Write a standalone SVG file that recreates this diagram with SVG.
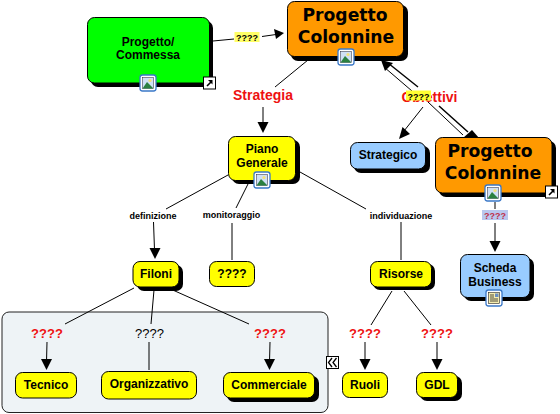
<svg xmlns="http://www.w3.org/2000/svg" width="560" height="414" viewBox="0 0 560 414">
<style>
text{font-family:"Liberation Sans",Arial,sans-serif;text-anchor:middle;font-weight:bold;fill:#000}
.n{stroke:#000;stroke-width:1}
.y{fill:#ffff00}.o{fill:#ff9900}.b{fill:#99ccff}.g{fill:#00ff00}
.s{fill:#000}
.t12{font-size:12px}
.big{font-family:"DejaVu Sans",Verdana,sans-serif;font-size:17.2px}
.red{font-size:14px;fill:#ee1111}
.lab{font-size:13px;fill:#ee1111}
.plain{font-size:13px;font-weight:normal}
.sm{font-size:9px}
.c{fill:none;stroke:#000;stroke-width:1}
.c2{fill:none;stroke:#000;stroke-width:1.5}
.h{fill:#000}
</style>
<defs>
<g id="pic">
<rect x="-8" y="-8" width="16" height="16" rx="2.5" fill="#fff" stroke="#3a78c8" stroke-width="1.3"/>
<rect x="-5.500" y="-5.500" width="11" height="11" fill="#cfe0f5" stroke="#223" stroke-width=".5"/>
<circle cx="2" cy="-2.500" r="1.600" fill="#f4e27a"/>
<path d="M-5.500 5.500L-1 -1L2 2L5.500 5.500Z" fill="#2a8040"/>
</g>
<g id="link">
<rect x="-6" y="-6" width="12" height="12" fill="#fff" stroke="#000" stroke-width="1"/>
<path d="M-2.500 3L2 -1.500" stroke="#000" stroke-width="1.600"/>
<path d="M-1.500 -3H3V1.500Z" fill="#000"/>
</g>
<g id="doc">
<rect x="-8" y="-8" width="16" height="16" rx="2.500" fill="#fff" stroke="#3a78c8" stroke-width="1.300"/>
<rect x="-5.500" y="-5.500" width="11" height="11" fill="#f5edb0" stroke="#222" stroke-width=".6"/>
<path d="M-4 -3H0M-4 -1H0M-4 1H4M-4 3H4" stroke="#222" stroke-width=".8"/>
<rect x="1" y="-4.500" width="3.500" height="3.500" fill="#6a8fc0"/>
</g>
</defs>
<rect width="560" height="414" fill="#fff"/>
<g id="panel"><rect x="2" y="312" width="326" height="100.500" rx="7" fill="#eef3f6" stroke="#222" stroke-width="1"/></g>

<g id="connectors">
<path class="c" d="M213 41L234 39M262 36.500L276 34.500"/>
<path class="h" d="M284 33L274 29L276 39Z"/>
<path class="c" d="M308 60L275 87"/>
<path class="c" d="M263 107V122"/>
<path class="h" d="M263 133L257.500 122H268.500Z"/>
<path class="c" d="M228 175L166 209"/>
<path class="c" d="M153.500 222L154.500 250"/>
<path class="h" d="M155 259L149.500 248H160.500Z"/>
<path class="c" d="M249 182L236 208"/>
<path class="c" d="M232 223V260"/>
<path class="c" d="M300 172L366 209"/>
<path class="c" d="M401 222V260"/>
<path class="c" d="M134 288L65 324M154 290L151 324M166 287L249 324"/>
<path class="c" d="M47 342L46.500 362"/>
<path class="h" d="M46.500 370L41 359H52Z"/>
<path class="c" d="M149 342V370"/>
<path class="c" d="M270 342L269.500 362"/>
<path class="h" d="M269.500 370L264 359H275Z"/>
<path class="c" d="M392 291L371 325M404 291L431 325"/>
<path class="c" d="M365 342V362"/>
<path class="h" d="M365 370L359.500 359H370.500Z"/>
<path class="c" d="M437 342V362"/>
<path class="h" d="M437 370L431.500 359H442.500Z"/>
<path class="c" d="M495 202V209M495 223V243"/>
<path class="h" d="M495 252L489.500 241H500.500Z"/>
<path class="c" d="M423 107L404 131"/>
<path class="h" d="M399 139L402.500 127L410 134Z"/>
<path class="c2" d="M388 63L418 87"/>
<path class="c" d="M384 67L412 91"/>
<path class="c" d="M428 102L463 135"/>
<path class="c2" d="M439 106L468 132"/>
<path class="h" d="M381 60L393 63L385 71Z"/>
<path class="h" d="M472 130L479 138H463Z"/>
</g>

<g id="node-commessa"><rect class="s" x="91" y="21" width="122" height="66" rx="7"/><rect class="n g" x="87.500" y="17.500" width="122" height="65.500" rx="7"/><text class="t12"><tspan x="148" y="46">Progetto/</tspan><tspan x="148" y="59">Commessa</tspan></text><use href="#pic" x="148" y="83"/><use href="#link" x="209.500" y="83"/></g>
<g id="node-progetto-top"><rect class="s" x="291" y="5" width="117" height="56" rx="7"/><rect class="n o" x="287.500" y="1.500" width="116" height="55" rx="7"/><text class="big"><tspan x="345" y="21">Progetto</tspan><tspan x="346" y="43">Colonnine</tspan></text><use href="#pic" x="346" y="57"/></g>
<g id="node-piano"><rect class="s" x="232" y="140" width="68" height="44" rx="7"/><rect class="n y" x="228.500" y="136.500" width="67" height="44" rx="7"/><text class="t12"><tspan x="262" y="153">Piano</tspan><tspan x="262" y="167">Generale</tspan></text><use href="#pic" x="262" y="180"/></g>
<g id="node-strategico"><rect class="s" x="354" y="146" width="76" height="27" rx="7"/><rect class="n b" x="350.500" y="142.500" width="75" height="26.500" rx="7"/><text class="t12" x="388" y="159">Strategico</text></g>
<g id="node-progetto-right"><rect class="s" x="439" y="141" width="117" height="56" rx="7"/><rect class="n o" x="435.500" y="137.500" width="116.500" height="55.500" rx="7"/><text class="big"><tspan x="490" y="157">Progetto</tspan><tspan x="493" y="179">Colonnine</tspan></text><use href="#pic" x="493" y="193"/><use href="#link" x="551.500" y="192"/></g>
<g id="node-scheda"><rect class="s" x="464" y="258" width="70" height="43" rx="7"/><rect class="n b" x="460.500" y="254.500" width="69.500" height="43" rx="7"/><text class="t12"><tspan x="495" y="272">Scheda</tspan><tspan x="495" y="286">Business</tspan></text><use href="#doc" x="494" y="298"/></g>
<g id="node-filoni"><rect class="s" x="137" y="265" width="46" height="26" rx="7"/><rect class="n y" x="133" y="261.500" width="46" height="25.500" rx="7"/><text class="t12" x="156" y="278">Filoni</text></g>
<g id="node-q"><rect class="n y" x="209.500" y="261.500" width="45" height="25" rx="7"/><text class="t12" x="232" y="278">????</text></g>
<g id="node-risorse"><rect class="s" x="373" y="264" width="62" height="26" rx="7"/><rect class="n y" x="370.500" y="261.500" width="61" height="25.500" rx="7"/><text class="t12" x="401" y="278">Risorse</text></g>
<g id="node-tecnico"><rect class="n y" x="15.500" y="372.500" width="61" height="25.500" rx="7"/><text class="t12" x="46" y="389">Tecnico</text></g>
<g id="node-organizzativo"><rect class="n y" x="101.500" y="371.500" width="95" height="27.500" rx="7"/><text class="t12" x="149" y="388">Organizzativo</text></g>
<g id="node-commerciale"><rect class="s" x="227" y="376" width="92" height="26" rx="7"/><rect class="n y" x="223.500" y="372.500" width="91" height="25.500" rx="7"/><text class="t12" x="269" y="389">Commerciale</text></g>
<g id="node-ruoli"><rect class="n y" x="342.500" y="372.500" width="45" height="25" rx="7"/><text class="t12" x="365" y="389">Ruoli</text></g>
<g id="node-gdl"><rect class="s" x="420" y="376" width="42" height="25" rx="7"/><rect class="n y" x="416.500" y="372.500" width="41" height="25" rx="7"/><text class="t12" x="437" y="389">GDL</text></g>

<g id="labels">
<rect x="234.500" y="32" width="25" height="10" fill="#ffff66"/>
<text class="sm" x="247" y="40.500">????</text>
<text class="red" x="263" y="100">Strategia</text>
<text class="red" x="429.500" y="102">Obiettivi</text>
<rect x="406" y="90.500" width="25" height="10" fill="#ffff33"/>
<text class="sm" x="418.500" y="99.500">????</text>
<text class="sm" x="153" y="218.500">definizione</text>
<text class="sm" x="231.500" y="217.500">monitoraggio</text>
<text class="sm" x="401" y="218.500">individuazione</text>
<rect x="482" y="210" width="26" height="10" fill="#b9c8ee"/>
<text class="sm" x="495" y="218.500" style="fill:#c0304a">????</text>
<text class="lab" x="47" y="338">????</text>
<text class="plain" x="149.500" y="338">????</text>
<text class="lab" x="270" y="338">????</text>
<text class="lab" x="365" y="338">????</text>
<text class="lab" x="437" y="338">????</text>
</g>
<g id="collapse"><rect x="326.500" y="356.500" width="12" height="12" fill="#fff" stroke="#000"/><path d="M332 358L328.500 362.500L332 367M336.500 358L333 362.500L336.500 367" fill="none" stroke="#000" stroke-width="1.300"/></g>
</svg>
